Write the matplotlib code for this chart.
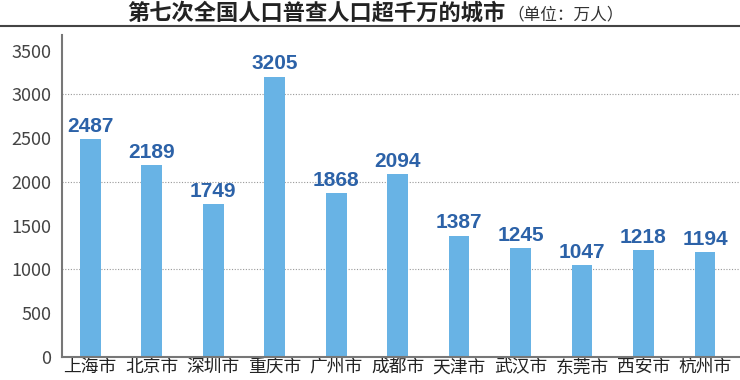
import matplotlib.pyplot as plt
from matplotlib.lines import Line2D

plt.rcParams['font.family'] = ['Noto Sans CJK SC', 'DejaVu Sans']

cities = ["上海市", "北京市", "深圳市", "重庆市", "广州市", "成都市",
          "天津市", "武汉市", "东莞市", "西安市", "杭州市"]
population = [2487, 2189, 1749, 3205, 1868, 2094, 1387, 1245, 1047, 1218, 1194]
y_ticks = [0, 500, 1000, 1500, 2000, 2500, 3000, 3500]
grid_values = [1000, 2000, 3000]

fig = plt.figure(figsize=(7.4, 3.8), dpi=100)
ax = fig.add_axes([0.084, 0.061, 0.916, 0.847])

x = range(len(cities))
ax.bar(x, population, width=0.34, color="#68b3e5", zorder=2)

for xi, v in zip(x, population):
    ax.text(xi, v + 35, str(v), ha="center", va="bottom", family="Liberation Sans",
            fontsize=15, fontweight="bold", color="#2c62a8", zorder=3)

for g in grid_values:
    ax.axhline(g, color="#999999", linestyle=(0, (1, 1.5)), lw=0.8, zorder=1)

ax.set_xlim(-0.455, 10.57)
ax.set_ylim(0, 3680)
ax.set_yticks(y_ticks)
ax.set_xticks(list(x))
ax.set_xticklabels(cities, fontsize=12.8, color="#222222")
ax.tick_params(axis="y", length=0, pad=8, labelsize=13, labelcolor="#444444")
ax.tick_params(axis="x", length=0, pad=1)
for lbl in ax.get_yticklabels():
    lbl.set_fontweight("light")

for s in ["top", "right"]:
    ax.spines[s].set_visible(False)
for s in ["left", "bottom"]:
    ax.spines[s].set_color("#777777")
    ax.spines[s].set_linewidth(1.5)

# title and rule under it
fig.text(0.683, 0.966, "第七次全国人口普查人口超千万的城市", ha="right", va="center",
         fontsize=16, fontweight="bold", color="#222222")
fig.text(0.685, 0.962, "（单位：万人）", ha="left", va="center",
         fontsize=12, color="#333333")
fig.add_artist(Line2D([0, 1], [0.932, 0.932], color="#444444", lw=1.5,
                      transform=fig.transFigure))

fig.savefig("out.png", dpi=100)
